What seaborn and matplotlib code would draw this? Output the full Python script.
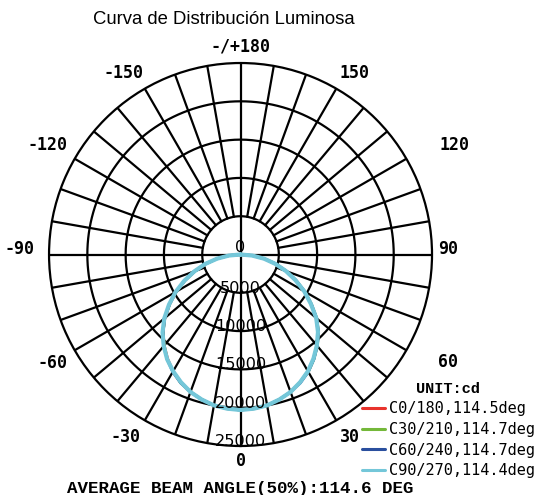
import numpy as np
import pandas as pd
import matplotlib
matplotlib.use("Agg")
import matplotlib.pyplot as plt
import seaborn as sns

# gamma angles (deg) and candela values per C-plane
gamma = [-90, -85, -80, -75, -70, -65, -60, -55, -50, -45, -40, -35, -30, -25, -20, -15, -10, -5,
         0, 5, 10, 15, 20, 25, 30, 35, 40, 45, 50, 55, 60, 65, 70, 75, 80, 85, 90]
c0_180 = [0, 1500, 3100, 4800, 6400, 8000, 9700, 11300, 12900, 14300, 15500, 16600, 17600, 18400, 19100, 19600, 20000, 20200,
          20300, 20200, 20000, 19600, 19100, 18400, 17600, 16600, 15500, 14300, 12900, 11200, 9600, 7900, 6300, 4700, 3100, 1500, 0]
c30_210 = [0, 1500, 3100, 4700, 6300, 8000, 9700, 11300, 12900, 14300, 15500, 16700, 17600, 18500, 19100, 19600, 20000, 20200,
           20300, 20200, 20000, 19600, 19100, 18400, 17700, 16700, 15600, 14400, 13000, 11300, 9700, 8000, 6400, 4800, 3200, 1600, 0]
c60_240 = [0, 1500, 3100, 4700, 6300, 8000, 9700, 11300, 12900, 14300, 15600, 16700, 17700, 18500, 19100, 19600, 20000, 20200,
           20300, 20200, 20000, 19600, 19100, 18500, 17700, 16700, 15600, 14400, 13000, 11300, 9700, 8000, 6400, 4800, 3200, 1600, 0]
c90_270 = [0, 1500, 3100, 4800, 6400, 8100, 9800, 11400, 13000, 14400, 15600, 16700, 17600, 18400, 19100, 19600, 20000, 20200,
           20300, 20200, 20000, 19600, 19100, 18400, 17600, 16600, 15500, 14300, 12900, 11200, 9600, 7900, 6300, 4700, 3100, 1500, 0]

plane_labels = ["C0/180,114.5deg", "C30/210,114.7deg", "C60/240,114.7deg", "C90/270,114.4deg"]
plane_colors = ["#e8332c", "#74b83a", "#2a4f9e", "#74c7d9"]
plane_values = [c0_180, c30_210, c60_240, c90_270]

ring_values = [5000, 10000, 15000, 20000, 25000]
angle_texts = ["-/+180", "150", "-150", "120", "-120", "90", "-90", "60", "-60", "30", "-30", "0"]
angle_text_pos = [(180, 27200), (147.8, 28000), (-147.1, 28200), (117.0, 31400), (-119.5, 29000),
                  (91.5, 27100), (-91.4, 28900), (62.6, 30500), (-59.9, 28300), (31.0, 27800),
                  (-32.3, 28200), (0, 26950)]

sns.set_theme(style="white")
plt.rcParams["font.family"] = ["DejaVu Sans"]
plt.rcParams["text.color"] = "black"

fig = plt.figure(figsize=(5.41, 4.95), dpi=100)
ax = fig.add_axes([0.0906, 0.099, 0.708, 0.7737], projection="polar")
ax.set_theta_zero_location("S")
ax.set_theta_direction(1)
ax.set_ylim(0, 25000)
ax.grid(False)
ax.set_xticks([])
ax.set_yticks([])
ax.spines["polar"].set_linewidth(1.6)
ax.spines["polar"].set_color("black")

# rings and spokes
full = np.linspace(0, 2 * np.pi, 361)
for rv in ring_values[:-1]:
    ax.plot(full, np.full_like(full, rv), color="black", lw=1.6, zorder=1)
for a in range(0, 360, 10):
    t = np.deg2rad(a)
    r0 = 0 if a % 90 == 0 else ring_values[0]
    ax.plot([t, t], [r0, 25000], color="black", lw=1.6, zorder=1)

df = pd.DataFrame({
    "theta": np.tile(np.deg2rad(gamma), len(plane_labels)),
    "cd": np.concatenate(plane_values),
    "plane": np.repeat(plane_labels, len(gamma)),
})
for lab, col in zip(plane_labels, plane_colors):
    sub = df[df["plane"] == lab]
    lw = 3.0 if lab.startswith("C90") else 2.0
    sns.lineplot(data=sub, x="theta", y="cd", color=col, lw=lw, sort=False,
                 label=lab, ax=ax, zorder=3)

ax.set_xlabel("")
ax.set_ylabel("")
ax.set_ylim(0, 25000)

# radial labels
ax.text(0, 0, "0", ha="center", va="bottom", fontsize=11.6, color="black", zorder=5)
for rv in ring_values:
    ax.text(0, rv, str(rv), ha="center", va="baseline", fontsize=11.6, color="black", zorder=5)

for (a, r), txt in zip(angle_text_pos, angle_texts):
    ax.text(np.deg2rad(a), r, txt, ha="center", va="center", fontsize=12, color="black",
            family="DejaVu Sans Mono", weight="bold", clip_on=False)

leg = ax.legend(loc="upper left", bbox_to_anchor=(361.5 / 541, 1 - 382 / 495),
                bbox_transform=fig.transFigure, frameon=False, borderpad=0,
                borderaxespad=0, handlelength=1.53, handletextpad=0.26, labelspacing=0.36,
                prop={"family": "DejaVu Sans Mono", "size": 11},
                title="UNIT:cd",
                title_fontproperties={"family": "Liberation Mono", "weight": "bold", "size": 11})
for h in leg.get_lines():
    h.set_linewidth(2.2)
for t in leg.get_texts():
    t.set_color("black")
leg.get_title().set_color("black")

fig.text(223.5 / 541, 1 - 19 / 495, "Curva de Distribución Luminosa", ha="center", va="center",
         fontsize=13.3, family="Liberation Sans", color="black")
fig.text(67 / 541, 1 - 488 / 495, "AVERAGE BEAM ANGLE(50%):114.6 DEG", ha="left", va="center",
         fontsize=12.6, family="Liberation Mono", weight="bold", color="black")

fig.savefig("out.png", dpi=100)
